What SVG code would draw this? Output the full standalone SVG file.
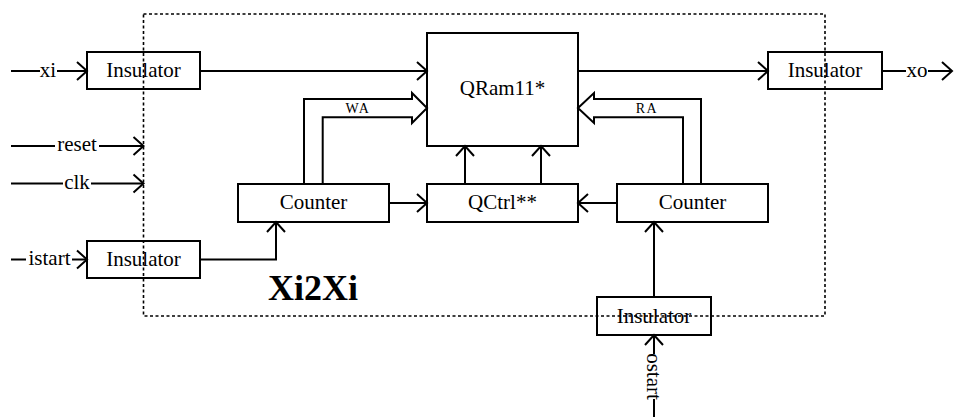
<svg xmlns="http://www.w3.org/2000/svg" width="954" height="417" viewBox="0 0 954 417">
<style>
.box{fill:none;stroke:#000;stroke-width:2}
.ln{fill:none;stroke:#000;stroke-width:2}
.t{font-family:"Liberation Serif","Times New Roman",serif;font-size:21px;fill:#000;text-anchor:middle}
.s{font-family:"Liberation Serif","Times New Roman",serif;font-size:14px;letter-spacing:1.5px;fill:#000;text-anchor:middle}
.title{font-family:"Liberation Serif","Times New Roman",serif;font-size:36px;font-weight:bold;fill:#000}
.dash{fill:none;stroke:#000;stroke-width:1.6;stroke-dasharray:3 2.5}
</style>
<defs>
<marker id="arr" markerUnits="userSpaceOnUse" viewBox="-12 -11 14 22" refX="0" refY="0" markerWidth="14" markerHeight="22" orient="auto">
<path d="M-10,-9 L0,0 L-10,9" fill="none" stroke="#000" stroke-width="2"/>
</marker>
</defs>
<rect width="954" height="417" fill="#fff"/>
<g id="connectors">
<path class="ln" d="M11,71 H40"/>
<text class="t" x="48" y="77">xi</text>
<path class="ln" d="M57,71 H87" marker-end="url(#arr)"/>
<path class="ln" d="M200,71 H427" marker-end="url(#arr)"/>
<path class="ln" d="M578,71 H768" marker-end="url(#arr)"/>
<path class="ln" d="M882,71 H906"/>
<text class="t" x="917" y="77">xo</text>
<path class="ln" d="M928,71 H952" marker-end="url(#arr)"/>
<path class="ln" d="M11,146 H55"/>
<text class="t" x="77" y="151">reset</text>
<path class="ln" d="M99,146 H143.5" marker-end="url(#arr)"/>
<path class="ln" d="M11,183.5 H63"/>
<text class="t" x="77" y="189">clk</text>
<path class="ln" d="M91,183.5 H143.5" marker-end="url(#arr)"/>
<path class="ln" d="M11,259.5 H26"/>
<text class="t" x="49.5" y="265">istart</text>
<path class="ln" d="M72,259.5 H87" marker-end="url(#arr)"/>
<path class="ln" d="M200,259.5 H276 V222" marker-end="url(#arr)"/>
<path class="ln" d="M389,203 H427" marker-end="url(#arr)"/>
<path class="ln" d="M617,203 H578" marker-end="url(#arr)"/>
<path class="ln" d="M465,184 V146" marker-end="url(#arr)"/>
<path class="ln" d="M541,184 V146" marker-end="url(#arr)"/>
<path class="ln" d="M654,297 V222" marker-end="url(#arr)"/>
<path class="ln" d="M654,354 V335" marker-end="url(#arr)"/>
<text class="t" x="0" y="0" transform="translate(647,376.5) rotate(90)" dy="0">ostart</text>
<path class="ln" d="M654,399 V417"/>
<path class="ln" d="M304,184 V99 H412 V93 L427,108 L412,123 V117.3 H322.7 V184"/>
<text class="s" x="358" y="113">WA</text>
<path class="ln" d="M701,184 V99 H594 V93 L578,108 L594,123 V117.3 H683 V184"/>
<text class="s" x="647" y="113">RA</text>
</g>
<g id="ins1"><rect class="box" x="87" y="52" width="113" height="37"/><text class="t" x="143.5" y="77">Insulator</text></g>
<g id="ins2"><rect class="box" x="87" y="241" width="113" height="37"/><text class="t" x="143.5" y="266">Insulator</text></g>
<g id="insR"><rect class="box" x="768" y="52" width="114" height="37"/><text class="t" x="825" y="77">Insulator</text></g>
<g id="insB"><rect class="box" x="597" y="297" width="114" height="38"/><text class="t" x="654" y="323">Insulator</text></g>
<g id="qram"><rect class="box" x="427" y="33" width="151" height="113"/><text class="t" x="502.5" y="95">QRam11*</text></g>
<g id="qctrl"><rect class="box" x="427" y="184" width="151" height="38"/><text class="t" x="502.5" y="209">QCtrl**</text></g>
<g id="counterL"><rect class="box" x="238" y="184" width="151" height="38"/><text class="t" x="313.5" y="209">Counter</text></g>
<g id="counterR"><rect class="box" x="617" y="184" width="151" height="38"/><text class="t" x="692.5" y="209">Counter</text></g>
<g id="xi2xi"><text class="title" x="268" y="300">Xi2Xi</text><rect class="dash" x="143.5" y="14" width="681.5" height="302"/></g>
</svg>
